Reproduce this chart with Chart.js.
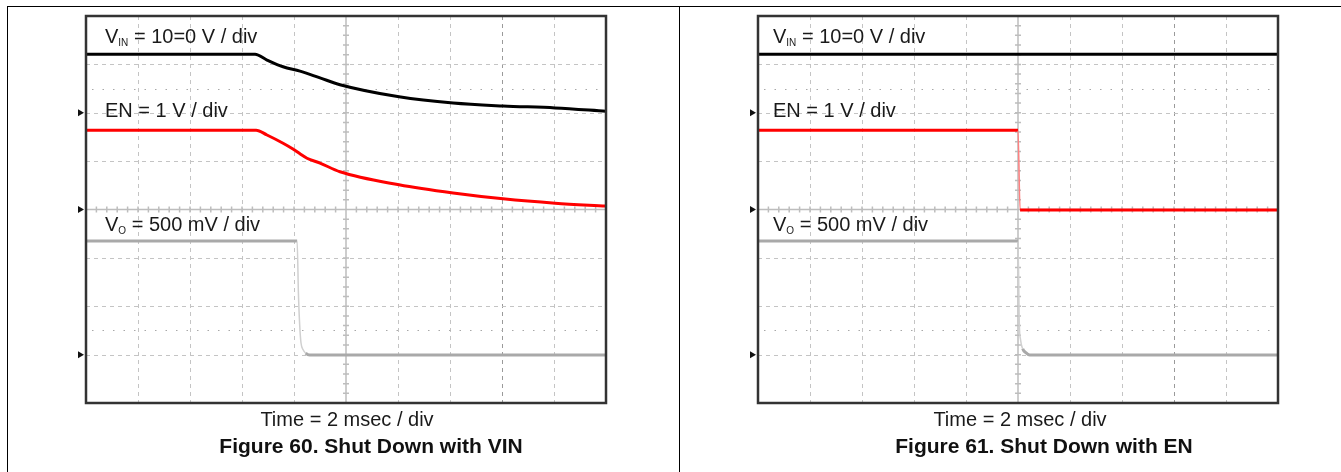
<!DOCTYPE html>
<html lang="en">
<head>
  <meta charset="UTF-8">
  <title>Shut Down with VIN / EN</title>
  <script src="https://cdn.jsdelivr.net/npm/chart.js"></script>
  <style>
    body { margin: 0; width: 1341px; height: 472px; background: #fff; overflow: hidden; position: relative;
           font-family: 'Liberation Sans', Arial, sans-serif; color: #1a1a1a; }
    canvas { position: absolute; top: 0; }
    .rule { position: absolute; background: #000; }
    .lbl { position: absolute; font-size: 20px; line-height: 20px; white-space: nowrap; }
    .lbl .sub { font-size: 10px; vertical-align: -3px; }
    .time { position: absolute; font-size: 20px; line-height: 20px; white-space: nowrap; transform: translateX(-50%); }
    .cap { position: absolute; font-size: 21px; line-height: 21px; font-weight: bold; white-space: nowrap; transform: translateX(-50%); color: #111; }
  </style>
</head>
<body>
  <div class="rule" style="left:7px; top:6px; width:1334px; height:1px;"></div>
  <div class="rule" style="left:7px; top:6px; width:1px; height:466px;"></div>
  <div class="rule" style="left:679px; top:6px; width:1px; height:466px;"></div>

  <canvas id="fig60" width="679" height="472" style="left:0;"></canvas>
  <canvas id="fig61" width="662" height="472" style="left:679px;"></canvas>

  <div class="lbl" style="left:105px; top:26px;">V<span class="sub">IN</span> = 10=0 V / div</div>
  <div class="lbl" style="left:105px; top:100px;">EN = 1 V / div</div>
  <div class="lbl" style="left:105px; top:214px;">V<span class="sub">O</span> = 500 mV / div</div>
  <div class="time" style="left:347px; top:409px;">Time = 2 msec / div</div>
  <div class="cap" style="left:371px; top:435px;">Figure 60. Shut Down with VIN</div>

  <div class="lbl" style="left:773px; top:26px;">V<span class="sub">IN</span> = 10=0 V / div</div>
  <div class="lbl" style="left:773px; top:100px;">EN = 1 V / div</div>
  <div class="lbl" style="left:773px; top:214px;">V<span class="sub">O</span> = 500 mV / div</div>
  <div class="time" style="left:1020px; top:409px;">Time = 2 msec / div</div>
  <div class="cap" style="left:1044px; top:435px;">Figure 61. Shut Down with EN</div>

  <script>
    // time in ms (2 ms/div, 10 div), level in screen divisions (0 = bottom, 8 = top)
    // Figure 60 - shut down with VIN
    const vinTime60 = [0, 6.5, 6.96, 7.58, 8.23, 9.0, 9.77, 12.04, 14.12, 16.04, 18.04, 20];
    const vinDiv60  = [7.21, 7.21, 7.09, 6.95, 6.86, 6.72, 6.58, 6.33, 6.20, 6.14, 6.10, 6.03];
    const enTime60  = [0, 6.54, 6.96, 7.58, 7.96, 8.23, 8.5, 9.0, 9.77, 12.04, 14.12, 16.04, 18.04, 20];
    const enDiv60   = [5.64, 5.64, 5.54, 5.37, 5.25, 5.15, 5.06, 4.96, 4.78, 4.51, 4.34, 4.22, 4.13, 4.07];
    const voTime60  = [0, 8.12, 8.17, 8.22, 8.27, 8.35, 8.45, 8.6, 20];
    const voDiv60   = [3.35, 3.35, 2.27, 1.6, 1.24, 1.1, 1.03, 0.99, 0.99];

    // Figure 61 - shut down with EN
    const vinTime61 = [0, 20];
    const vinDiv61  = [7.21, 7.21];
    const enTime61  = [0, 10.0, 10.08, 20];
    const enDiv61   = [5.64, 5.64, 3.99, 3.99];
    const voTime61  = [0, 10.0, 10.05, 10.1, 10.18, 10.3, 10.45, 20];
    const voDiv61   = [3.35, 3.35, 1.65, 1.3, 1.12, 1.04, 0.99, 0.99];

    // ground reference arrows on the left edge (divisions)
    const groundMarks = [6, 4, 1];
    const dottedLevels = [6.5, 1.5];

    function pts(t, v) { return t.map((x, i) => ({ x: x, y: v[i] })); }

    function trace(t, v, color, light) {
      return {
        data: pts(t, v),
        borderColor: color,
        borderWidth: 3,
        pointRadius: 0,
        cubicInterpolationMode: 'monotone',
        segment: {
          borderWidth: c => Math.abs(c.p1.x - c.p0.x) < 3 ? 1.5 : 3,
          borderColor: c => Math.abs(c.p1.x - c.p0.x) < 3 ? light : color
        }
      };
    }

    const scopeGrid = {
      id: 'scopeGrid',
      beforeDatasetsDraw(chart) {
        const { ctx, chartArea: a, scales: { x, y } } = chart;
        ctx.save();
        ctx.lineWidth = 1;
        // dashed division lines
        for (let k = 1; k < 10; k++) {
          if (k === 5) continue;
          const px = Math.round(x.getPixelForValue(k * 2)) + 0.5;
          ctx.strokeStyle = k === 8 ? '#9a9a9a' : '#c4c4c4';
          ctx.setLineDash([4, 4]);
          ctx.beginPath(); ctx.moveTo(px, a.top); ctx.lineTo(px, a.bottom); ctx.stroke();
        }
        ctx.strokeStyle = '#c4c4c4';
        for (let k = 1; k < 8; k++) {
          if (k === 4) continue;
          const py = Math.round(y.getPixelForValue(k)) + 0.5;
          ctx.beginPath(); ctx.moveTo(a.left, py); ctx.lineTo(a.right, py); ctx.stroke();
        }
        // dotted cursor lines
        ctx.strokeStyle = '#a8a8a8';
        ctx.setLineDash([1.5, 9]);
        dottedLevels.forEach(d => {
          const py = Math.round(y.getPixelForValue(d)) + 0.5;
          ctx.beginPath(); ctx.moveTo(a.left + 6, py); ctx.lineTo(a.right, py); ctx.stroke();
        });
        // centre axes with minor ticks
        ctx.setLineDash([]);
        ctx.strokeStyle = '#bdbdbd';
        ctx.lineWidth = 1.5;
        const cx = x.getPixelForValue(10), cy = y.getPixelForValue(4);
        ctx.beginPath();
        ctx.moveTo(cx, a.top); ctx.lineTo(cx, a.bottom);
        ctx.moveTo(a.left, cy); ctx.lineTo(a.right, cy);
        for (let i = 1; i < 50; i++) {
          const px = x.getPixelForValue(i * 0.4);
          ctx.moveTo(px, cy - 3); ctx.lineTo(px, cy + 3);
        }
        for (let i = 1; i < 40; i++) {
          const py = y.getPixelForValue(i * 0.2);
          ctx.moveTo(cx - 3, py); ctx.lineTo(cx + 3, py);
        }
        ctx.stroke();
        ctx.restore();
      },
      afterDatasetsDraw(chart) {
        const { ctx, chartArea: a, scales: { y } } = chart;
        ctx.save();
        ctx.strokeStyle = '#333';
        ctx.lineWidth = 2.5;
        ctx.strokeRect(a.left, a.top, a.right - a.left, a.bottom - a.top);
        ctx.fillStyle = '#111';
        groundMarks.forEach(d => {
          const py = y.getPixelForValue(d);
          ctx.beginPath();
          ctx.moveTo(a.left - 8, py - 3.5);
          ctx.lineTo(a.left - 2, py);
          ctx.lineTo(a.left - 8, py + 3.5);
          ctx.closePath();
          ctx.fill();
        });
        ctx.restore();
      }
    };

    function scope(id, padLeft, padRight, sets) {
      new Chart(document.getElementById(id), {
        type: 'line',
        data: { datasets: sets },
        options: {
          responsive: false,
          animation: false,
          events: [],
          layout: { padding: { left: padLeft, right: padRight, top: 16, bottom: 69 } },
          plugins: { legend: { display: false }, tooltip: { enabled: false } },
          scales: {
            x: { type: 'linear', min: 0, max: 20, display: false },
            y: { type: 'linear', min: 0, max: 8, display: false }
          }
        },
        plugins: [scopeGrid]
      });
    }

    scope('fig60', 86, 73, [
      trace(voTime60, voDiv60, '#a9a9a9', '#d0d0d0'),
      trace(enTime60, enDiv60, '#ff0000', '#ff8080'),
      trace(vinTime60, vinDiv60, '#000000', '#555555')
    ]);
    scope('fig61', 79, 63, [
      trace(voTime61, voDiv61, '#a9a9a9', '#d0d0d0'),
      trace(enTime61, enDiv61, '#ff0000', '#ff8080'),
      trace(vinTime61, vinDiv61, '#000000', '#555555')
    ]);
  </script>
</body>
</html>
